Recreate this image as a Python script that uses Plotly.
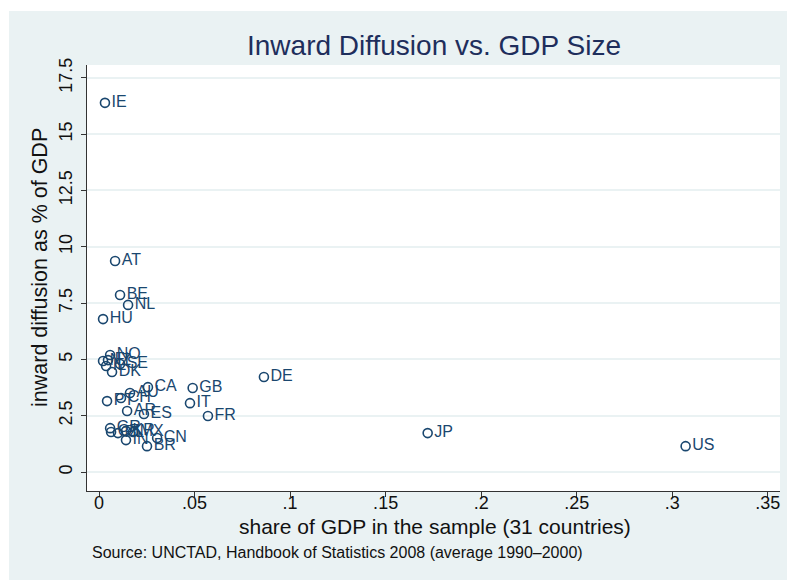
import plotly.graph_objects as go

countries = ["IE", "AT", "BE", "NL", "HU", "NO", "NZ", "FI", "SE", "IL", "DK",
             "CA", "GB", "DE", "AU", "CH", "PT", "IT", "AR", "ES", "FR",
             "GR", "CZ", "PL", "KR", "MX", "IN", "CN", "BR", "JP", "US"]
gdp_share = [0.0031, 0.0084, 0.0110, 0.0152, 0.0021, 0.0058, 0.0021, 0.0047, 0.0110, 0.0037, 0.0068,
             0.0256, 0.0490, 0.0863, 0.0162, 0.0115, 0.0042, 0.0476, 0.0147, 0.0235, 0.0570,
             0.0058, 0.0063, 0.0099, 0.0141, 0.0178, 0.0141, 0.0304, 0.0251, 0.1720, 0.3070]
inward_diffusion = [16.39, 9.37, 7.86, 7.42, 6.79, 5.20, 4.93, 4.97, 4.80, 4.71, 4.44,
                    3.77, 3.73, 4.22, 3.51, 3.29, 3.15, 3.06, 2.71, 2.58, 2.49,
                    1.95, 1.78, 1.73, 1.82, 1.78, 1.42, 1.51, 1.15, 1.73, 1.15]

x_ticks = [0, 0.05, 0.1, 0.15, 0.2, 0.25, 0.3, 0.35]
x_ticktext = ["0", ".05", ".1", ".15", ".2", ".25", ".3", ".35"]
y_ticks = [0, 2.5, 5, 7.5, 10, 12.5, 15, 17.5]
y_ticktext = ["0", "2.5", "5", "7.5", "10", "12.5", "15", "17.5"]

navy = "#1a476f"
font = "Liberation Sans, Arial, sans-serif"

W, H = 787, 580
# plot area edges in window pixels
L, R, T, B = 87, 780, 65, 491
pw, ph = R - L, B - T


def px(x):
    return (x - L) / pw


def py(y):
    return (B - y) / ph


fig = go.Figure()
fig.add_trace(go.Scatter(
    x=gdp_share, y=inward_diffusion, text=countries,
    mode="markers+text", textposition="middle right",
    textfont=dict(family=font, size=16, color=navy),
    marker=dict(symbol="circle-open", size=9, color=navy, line=dict(width=1.6, color=navy)),
    cliponaxis=False, showlegend=False,
))

fig.update_layout(
    width=W, height=H,
    margin=dict(l=L, r=W - R, t=T, b=H - B),
    paper_bgcolor="white", plot_bgcolor="white",
    font=dict(family=font, color="#111111"),
    title=dict(text="Inward Diffusion vs. GDP Size",
               x=434 / W, xanchor="center",
               y=1 - 45 / H, yanchor="middle",
               font=dict(family=font, size=28, color="#1e2e5c")),
    shapes=[
        dict(type="rect", xref="paper", yref="paper", x0=px(9), x1=px(W + 5), y0=py(H + 5), y1=py(11),
             fillcolor="#eaf2f3", line=dict(width=0), layer="below"),
        dict(type="rect", xref="paper", yref="paper", x0=0, x1=1, y0=0, y1=1,
             fillcolor="white", line=dict(width=0), layer="below"),
    ],
    annotations=[
        dict(text="share of GDP in the sample (31 countries)",
             xref="paper", yref="paper", x=px(434.5), y=py(526),
             xanchor="center", yanchor="middle", showarrow=False,
             font=dict(family=font, size=21, color="#111111")),
        dict(text="inward diffusion as % of GDP", textangle=-90,
             xref="paper", yref="paper", x=px(40), y=py(268),
             xanchor="center", yanchor="middle", showarrow=False,
             font=dict(family=font, size=21.5, color="#111111")),
        dict(text="Source: UNCTAD, Handbook of Statistics 2008 (average 1990\u20132000)",
             xref="paper", yref="paper", x=px(90), y=py(552),
             xanchor="left", yanchor="middle", showarrow=False,
             font=dict(family=font, size=16, color="#111111")),
    ],
)

fig.update_xaxes(
    range=[-0.0063, 0.3564], tickvals=x_ticks, ticktext=x_ticktext,
    showgrid=False, zeroline=False, showline=True, linecolor="#333333", linewidth=1,
    ticks="outside", ticklen=5, tickcolor="#333333", automargin=False,
    ticklabelstandoff=-10,
    tickfont=dict(family=font, size=18, color="#111111"),
)
fig.update_yaxes(
    range=[-0.84, 18.07], tickvals=y_ticks, ticktext=y_ticktext, tickangle=-90,
    showgrid=True, gridcolor="#eaf2f3", gridwidth=1.5, zeroline=False,
    showline=True, linecolor="#333333", linewidth=1,
    ticks="outside", ticklen=5, tickcolor="#333333", automargin=False,
    ticklabelstandoff=2,
    tickfont=dict(family=font, size=18, color="#111111"),
)

fig.write_html("out.html", config={"displayModeBar": False},
               post_script="document.body.style.margin='0px';document.body.style.overflow='hidden';")
